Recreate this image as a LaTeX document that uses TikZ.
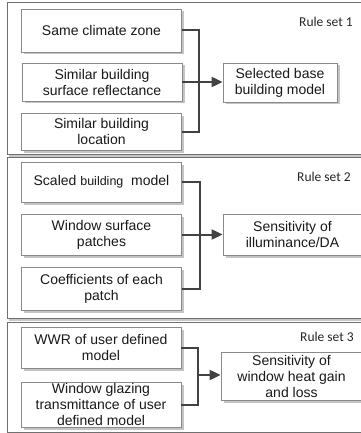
\documentclass[tikz,border=0pt]{standalone}
\usepackage{fontspec}
\setmainfont{Liberation Sans}
\newfontfamily\rulefont{Carlito}
\usetikzlibrary{arrows.meta,shadows}
\definecolor{panelline}{HTML}{707070}
\definecolor{panelshade}{HTML}{C8C8C8}
\definecolor{boxline}{HTML}{8A8A8A}
\definecolor{boxshade}{HTML}{C4C4C4}
\definecolor{connline}{HTML}{424242}
\tikzset{
  panel/.style={draw=panelline, line width=1pt},
  panelshadow/.style={draw=panelshade, line width=1.6pt},
  stepbox/.style={draw=boxline, line width=0.8pt, fill=white, align=center,
    inner sep=0pt, text=black!90, font=\fontsize{14}{16}\selectfont,
    general shadow={fill=boxshade, shadow xshift=2.5pt, shadow yshift=-2.5pt}},
  ruletext/.style={anchor=east, inner sep=0pt, font=\rulefont\fontsize{13.5}{15}\selectfont, text=black!85},
  conn/.style={draw=connline, line width=2pt},
  arrowconn/.style={conn, -{Triangle[length=11pt, width=10pt]}},
}
\begin{document}
\begin{tikzpicture}[x=1pt, y=-1pt]
\useasboundingbox (0,0) rectangle (360,433);
\fill[white] (0,0) rectangle (360,433);

% three rule-set panels (open to the right)
\draw[panelshadow] (9,156) -- (366,156);
\draw[panel] (366,3) -- (7,3) -- (7,154) -- (366,154);
\draw[panelshadow] (9,320) -- (366,320);
\draw[panel] (366,157) -- (7,157) -- (7,318) -- (366,318);
\draw[panel] (366,322) -- (7,322) -- (7,432) -- (366,432);

% rule set 1
\node[ruletext] (rs1) at (353,22) {Rule set 1};
\node[stepbox, minimum width=160pt, minimum height=43pt] (a) at (101.5,30.5) {Same climate zone};
\node[stepbox, minimum width=160pt, minimum height=38pt] (b) at (102,82) {Similar building\\surface reflectance};
\node[stepbox, minimum width=160pt, minimum height=37pt] (c) at (101.5,131.5) {Similar building\\location};
\node[stepbox, minimum width=114pt, minimum height=39pt] (r1) at (280,82.5) {Selected base\\building model};
\coordinate (j1) at (199,82);
\draw[conn] (a.east) -| (j1);
\draw[conn] (c.east) -| (j1);
\draw[arrowconn] (b.east) -- (b.east -| r1.west);

% rule set 2
\node[ruletext] (rs2) at (351,177) {Rule set 2};
\node[stepbox, minimum width=160pt, minimum height=40pt] (d) at (101.5,182) {Scaled {\fontsize{12.5}{16}\selectfont building}\ \ model};
\node[stepbox, minimum width=160pt, minimum height=41pt] (e) at (101.5,234.5) {Window surface\\patches};
\node[stepbox, minimum width=160pt, minimum height=43pt] (f) at (101.5,288.5) {Coefficients of each\\patch};
\node[stepbox, minimum width=139pt, minimum height=41pt] (r2) at (292.5,234.5) {Sensitivity of\\illuminance/DA};
\coordinate (j2) at (200,234.5);
\draw[conn] (d.east) -| (j2);
\draw[conn] (f.east) -| (j2);
\draw[arrowconn] (e.east) -- (e.east -| r2.west);

% rule set 3
\node[ruletext] (rs3) at (354,337) {Rule set 3};
\node[stepbox, minimum width=160pt, minimum height=41pt] (g) at (101,347.5) {WWR of user defined\\model};
\node[stepbox, minimum width=160pt, minimum height=45pt] (h) at (101,404.5) {Window glazing\\transmittance of user\\defined model};
\node[stepbox, minimum width=141pt, minimum height=48pt] (r3) at (291.5,376) {Sensitivity of\\window heat gain\\and loss};
\coordinate (j3) at (198,375);
\draw[conn] (g.east) -| (j3);
\draw[conn] (h.east) -| (j3);
\draw[arrowconn] (j3) -- (j3 -| r3.west);
\end{tikzpicture}
\end{document}
